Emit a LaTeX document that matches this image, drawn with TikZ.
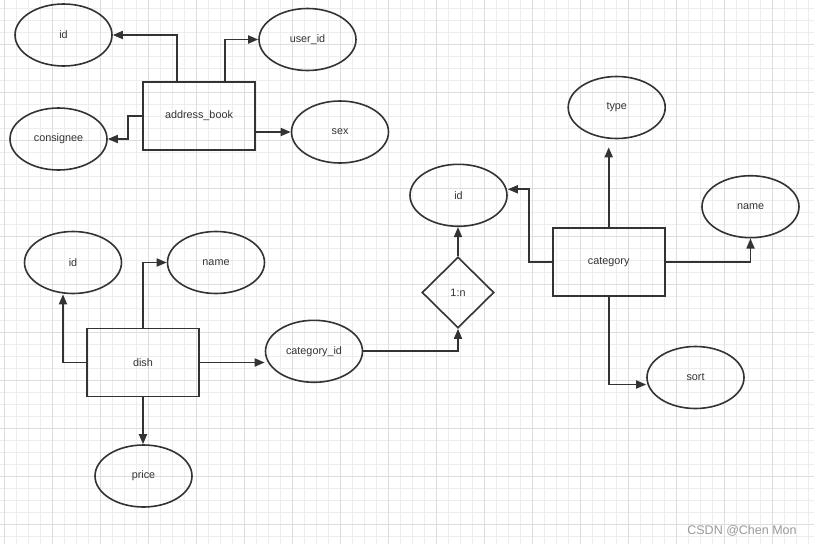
\documentclass[tikz,border=0pt]{standalone}
\usepackage{fontspec}
\setmainfont{Liberation Sans}
\usetikzlibrary{shapes.geometric,arrows.meta}

\definecolor{erline}{HTML}{333333}
\definecolor{gridminor}{HTML}{EDEDED}
\definecolor{gridmajor}{HTML}{DDDDDD}
\definecolor{markgray}{HTML}{999999}

\tikzset{
  attr/.style={draw=erline, line width=1.6pt, ellipse, minimum width=97pt,
    minimum height=62pt, inner sep=0pt, text=erline,
    font=\fontsize{10.8}{13}\selectfont},
  entity/.style={draw=erline, line width=1.7pt, rectangle, minimum width=112pt,
    minimum height=68pt, inner sep=0pt, text=erline,
    font=\fontsize{10.8}{13}\selectfont},
  rel/.style={draw=erline, line width=1.6pt, diamond, minimum width=72pt,
    minimum height=71pt, inner sep=0pt, text=erline,
    font=\fontsize{10.8}{13}\selectfont},
  conn/.style={draw=erline, line width=1.7pt, -{Triangle[length=10pt,width=8pt]}},
}

\begin{document}
\begin{tikzpicture}[x=1pt, y=-1pt]

    \fill[white] (0, 0) rectangle (814, 544);
    \useasboundingbox (0, 0) rectangle (814, 544);

    % background grid
    \begin{scope}[shift={(4, 8.3)}]
        \draw[gridminor, line width=0.8pt, step=12pt] (-4, -8.3) grid (810, 535.7);
    \end{scope}
    \begin{scope}[shift={(4, 44.3)}]
        \draw[gridmajor, line width=0.8pt, step=48pt] (-4, -44.3) grid (810, 499.7);
    \end{scope}

    % address_book
    \node[attr] (abId) at (63.5, 35) {id};
    \node[attr] (abUserId) at (307.5, 39.5) {user\_id};
    \node[entity] (abBook) at (199, 116) {address\_book};
    \node[attr] (abConsignee) at (58.5, 139) {consignee};
    \node[attr] (abSex) at (340, 132) {sex};

    \draw[conn] ([xshift=-22pt]abBook.north) |- (abId.east);
    \draw[conn] ([xshift=26pt]abBook.north) |- (abUserId.west);
    \draw[conn] (abBook.west) -- ++(-14.5, 0) |- (abConsignee.east);
    \draw[conn] (abSex.west -| abBook.east) -- (abSex.west);

    % dish
    \node[attr] (dishId) at (73, 262.5) {id};
    \node[attr] (dishName) at (216, 262.5) {name};
    \node[entity] (dish) at (143, 362.5) {dish};
    \node[attr] (dishCatId) at (314, 351.3) {category\_id};
    \node[attr] (dishPrice) at (143.5, 476) {price};

    \draw[conn] (dish.west) -| ([xshift=-10pt]dishId.south);
    \draw[conn] (dish.north) |- (dishName.west);
    \draw[conn] (dish.east) -- (dish.east -| dishCatId.west);
    \draw[conn] (dish.south) -- (dish.south |- dishPrice.north);

    % category
    \node[rel] (relOneN) at (458, 292.5) {1:n};
    \node[attr] (catId) at (458.5, 195.3) {id};
    \node[attr] (catType) at (616.7, 107.5) {type};
    \node[attr] (catName) at (750.5, 206.7) {name};
    \node[entity] (category) at (608.7, 262) {category};
    \node[attr] (catSort) at (695.5, 377.5) {sort};

    \draw[conn] (dishCatId.east) -| (relOneN.south);
    \draw[conn] (relOneN.north) -- (relOneN.north |- catId.south);
    \draw[conn, shorten >=8pt] (category.north) -- (category.north |- catType.south);
    \draw[conn] (category.west) -- ++(-23, 0) |- ([yshift=6pt]catId.east);
    \draw[conn] (category.east) -| (catName.south);
    \draw[conn] (category.south) |- ([yshift=-7pt]catSort.west);

    \node[markgray, font=\fontsize{12.5}{15}\selectfont] (watermark) at (742, 530.5) {CSDN @Chen Mon};

\end{tikzpicture}
\end{document}
